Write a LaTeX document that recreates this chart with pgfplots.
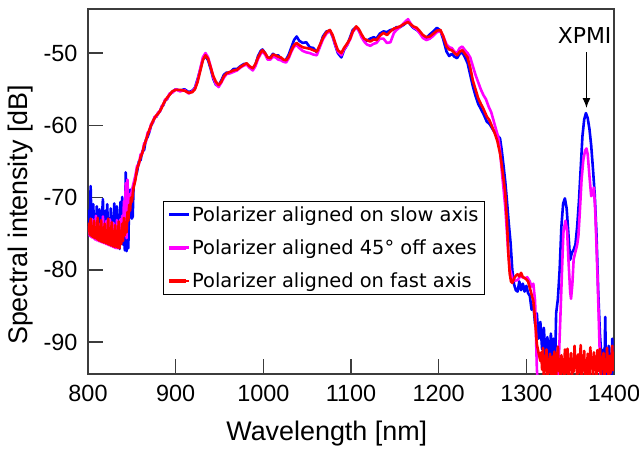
\documentclass[border=0pt]{standalone}
\usepackage{pgfplots}
\pgfplotsset{compat=1.18}
\usepackage{pgfplotstable}
\usetikzlibrary{arrows.meta}
\usepackage{fontspec}
\setmainfont{Liberation Sans}
\newfontfamily\legfont{DejaVu Sans}
\definecolor{axgray}{HTML}{3C3C3C}
\definecolor{cblue}{RGB}{0,0,255}
\definecolor{cmag}{RGB}{255,0,255}
\definecolor{cred}{RGB}{255,0,0}

\pgfplotstableread{
x y
800 -74.0
801 -71.8
802 -75.2
803 -68.4
804 -73.5
805 -75.4
806 -70.9
807 -74.6
808 -72.3
809 -75.6
810 -71.2
811 -74.8
812 -75.9
813 -71.6
814 -74.0
815 -76.0
816 -72.6
817 -70.2
818 -75.1
819 -76.2
820 -71.8
821 -74.5
822 -70.9
823 -76.4
824 -73.1
825 -75.8
826 -71.5
827 -76.6
828 -72.7
829 -74.9
830 -70.8
831 -76.8
832 -73.0
833 -71.2
834 -75.9
835 -72.4
836 -77.1
837 -70.6
838 -74.3
839 -69.9
840 -76.5
841 -70.8
842 -77.3
843 -66.5
844 -77.4
845 -70.0
846 -77.0
847 -69.5
848 -68.9
849 -71.5
850 -72.9
851 -72.6
852 -68.5
854 -67.2
856 -66.4
858 -65.0
860 -64.8
862 -63.6
864 -63.4
866 -62.0
868 -61.6
870 -60.9
872 -60.0
874 -59.6
876 -58.9
878 -58.8
880 -58.3
882 -58.1
884 -57.4
886 -57.2
888 -56.5
890 -56.4
893 -55.7
896 -55.4
900 -55.0
905 -55.2
910 -55.0
915 -55.4
919 -55.2
922 -54.8
925 -53.6
928 -52.3
931 -50.9
934 -50.4
937 -51.0
940 -52.2
943 -53.6
946 -54.4
949 -54.5
952 -53.8
955 -53.0
958 -52.7
962 -52.7
966 -52.2
970 -52.2
974 -51.8
978 -51.5
981 -51.5
984 -51.9
988 -52.2
991 -51.6
994 -50.4
997 -49.7
999 -49.5
1002 -50.0
1005 -50.8
1008 -50.6
1011 -50.1
1014 -50.4
1017 -50.3
1020 -50.8
1023 -51.1
1026 -50.9
1029 -50.2
1032 -49.2
1035 -48.2
1038 -47.7
1041 -48.3
1045 -48.6
1049 -48.5
1053 -49.2
1057 -49.3
1061 -49.9
1064 -49.2
1068 -47.7
1072 -47.0
1076 -46.9
1079 -47.7
1082 -48.9
1085 -50.0
1089 -50.6
1092 -49.6
1096 -48.8
1099 -47.8
1102 -46.8
1106 -46.4
1109 -46.9
1112 -47.6
1115 -48.1
1118 -48.3
1122 -48.0
1126 -47.8
1129 -48.0
1133 -47.3
1137 -47.0
1141 -47.1
1145 -46.8
1149 -46.7
1152 -46.4
1156 -46.4
1160 -46.1
1165 -45.6
1168 -46.1
1171 -46.5
1175 -46.8
1178 -47.1
1182 -47.7
1186 -47.9
1190 -47.4
1194 -47.0
1198 -46.5
1202 -46.9
1205 -48.0
1209 -49.8
1212 -50.4
1215 -50.1
1218 -50.5
1221 -50.7
1224 -50.1
1227 -49.9
1230 -50.6
1233 -51.4
1236 -53.0
1239 -54.6
1242 -55.9
1245 -57.0
1248 -57.7
1251 -58.4
1255 -59.5
1258 -59.8
1261 -60.4
1264 -61.0
1267 -61.4
1270 -61.8
1272 -63.5
1274 -65.6
1276 -67.8
1278 -70.6
1280 -73.6
1282 -76.2
1284 -80.0
1286 -82.0
1288 -82.8
1290 -83.0
1292 -81.6
1294 -82.8
1296 -81.9
1298 -83.0
1300 -82.2
1302 -83.2
1304 -83.6
1306 -85.5
1308 -84.8
1310 -87.5
1312 -86.0
1314 -89.5
1316 -87.2
1318 -91.0
1320 -88.0
1322 -92.5
1324 -89.3
1326 -93.5
1328 -88.8
1330 -94.5
1331 -89.5
1333 -92.0
1334 -86.0
1336 -84.0
1338 -80.0
1340 -74.0
1342 -70.8
1344 -70.1
1346 -71.5
1348 -75.0
1350 -78.6
1352 -77.6
1354 -77.2
1356 -76.5
1358 -74.0
1360 -70.5
1362 -66.0
1364 -61.5
1366 -59.2
1368 -58.3
1370 -59.0
1372 -60.5
1374 -62.8
1376 -66.0
1378 -69.5
1380 -75.0
1382 -83.0
1384 -89.0
1386 -92.5
1387 -94.5
1388 -91.0
1389 -95.0
1390 -86.5
1391 -94.8
1392 -92.0
1393 -95.0
1394 -90.5
1395 -94.5
1396 -91.8
1397 -95.0
1398 -89.5
1399 -94.0
1400 -91.0
}\slowdata

\pgfplotstableread{
x y
800 -74.8
801 -74.0
802 -75.3
803 -73.5
804 -75.5
805 -73.0
806 -75.6
807 -74.3
808 -75.8
809 -72.5
810 -75.9
811 -74.1
812 -76.0
813 -73.7
814 -76.1
815 -74.4
816 -76.2
817 -72.6
818 -76.3
819 -74.9
820 -76.4
821 -73.2
822 -76.5
823 -74.6
824 -76.6
825 -73.0
826 -76.7
827 -74.2
828 -76.8
829 -73.5
830 -76.9
831 -74.9
832 -77.0
833 -73.1
834 -77.0
835 -74.7
836 -76.8
837 -73.0
838 -75.9
839 -72.5
840 -75.0
841 -70.5
842 -74.5
843 -68.0
844 -75.6
845 -67.5
846 -71.0
847 -69.5
848 -70.5
850 -69.0
852 -68.0
854 -67.0
856 -65.6
858 -65.4
860 -64.0
862 -63.9
864 -62.5
866 -62.3
868 -61.0
870 -60.8
872 -59.8
874 -59.6
876 -58.8
878 -58.8
880 -58.2
882 -58.1
884 -57.4
886 -57.1
888 -56.4
890 -56.4
893 -55.6
896 -55.5
900 -55.0
905 -55.3
910 -55.1
915 -55.6
919 -55.3
922 -54.9
925 -53.8
928 -52.2
931 -50.6
934 -50.0
937 -50.6
940 -51.9
943 -53.4
946 -54.3
949 -54.7
952 -54.1
955 -53.4
958 -52.9
962 -52.8
966 -52.6
970 -52.4
974 -52.0
978 -51.7
981 -51.6
984 -52.0
988 -52.4
991 -51.8
994 -50.8
997 -50.1
999 -49.8
1002 -50.2
1005 -50.9
1008 -50.9
1011 -50.5
1014 -50.6
1017 -50.9
1020 -51.0
1023 -51.2
1026 -51.3
1029 -50.7
1032 -49.8
1035 -49.1
1038 -48.9
1041 -49.3
1045 -49.7
1049 -49.9
1053 -50.0
1057 -50.2
1061 -50.3
1064 -49.3
1068 -48.1
1072 -47.3
1076 -46.9
1079 -47.6
1082 -48.8
1085 -49.8
1089 -50.3
1092 -49.5
1096 -48.8
1099 -48.1
1102 -47.1
1106 -46.4
1109 -46.9
1112 -47.8
1115 -48.4
1118 -48.8
1122 -49.0
1126 -48.7
1129 -48.6
1133 -48.0
1137 -48.0
1141 -48.6
1145 -48.5
1149 -47.2
1152 -46.8
1156 -46.4
1160 -45.9
1165 -45.3
1168 -45.9
1171 -46.4
1175 -46.7
1178 -47.2
1182 -47.9
1186 -48.2
1190 -48.0
1194 -47.6
1198 -47.1
1202 -47.0
1205 -47.6
1209 -48.8
1212 -49.2
1215 -49.3
1218 -49.8
1221 -50.0
1224 -49.3
1227 -49.1
1230 -49.6
1233 -50.0
1236 -50.6
1239 -51.8
1242 -53.0
1245 -54.0
1248 -55.0
1251 -55.8
1254 -56.4
1257 -57.4
1260 -58.2
1263 -59.5
1266 -60.8
1268 -61.6
1270 -63.5
1272 -66.3
1274 -68.8
1276 -71.3
1278 -75.0
1279.5 -77.8
1281.5 -80.0
1284 -81.1
1287 -81.5
1290 -81.4
1293 -80.9
1296 -81.0
1299 -81.2
1301 -81.0
1304 -81.6
1306 -82.3
1308 -81.9
1310 -84.3
1312 -93.6
1314 -98.0
1334 -98.0
1336.6 -94.0
1339 -86.0
1340.8 -79.7
1342.3 -74.8
1344.6 -73.2
1346.5 -74.5
1348 -78.5
1350 -83.0
1351 -84.0
1352.5 -82.0
1354 -78.5
1356 -77.5
1358 -76.5
1359.4 -75.3
1361 -72.0
1363 -67.5
1365 -64.8
1367 -63.5
1368.6 -63.2
1370 -64.0
1372 -67.0
1374 -69.8
1375.5 -69.5
1377 -68.6
1378.5 -71.5
1380 -76.5
1381.5 -82.0
1383 -88.5
1384.6 -95.0
1386 -98.0
1400 -98.0
}\offdata

\pgfplotstableread{
x y
800 -74.6
801 -73.6
802 -75.1
803 -72.9
804 -75.3
805 -74.1
806 -75.5
807 -73.2
808 -75.6
809 -74.4
810 -75.7
811 -72.8
812 -75.9
813 -74.6
814 -76.0
815 -73.1
816 -76.1
817 -74.2
818 -76.2
819 -73.6
820 -76.3
821 -74.8
822 -76.4
823 -72.9
824 -76.5
825 -74.5
826 -76.6
827 -73.4
828 -76.7
829 -75.0
830 -76.8
831 -73.8
832 -76.8
833 -74.6
834 -76.9
835 -73.3
836 -77.0
837 -74.9
838 -76.4
839 -73.6
840 -76.0
841 -72.8
842 -75.2
843 -73.4
844 -74.8
845 -72.0
846 -73.2
847 -71.0
848 -71.8
849 -70.0
850 -70.6
852 -68.6
854 -67.6
856 -66.0
858 -65.3
860 -64.4
862 -63.8
864 -62.8
866 -62.1
868 -61.3
870 -60.6
872 -60.0
874 -59.4
876 -59.0
878 -58.6
880 -58.4
882 -58.0
884 -57.6
886 -57.0
888 -56.6
890 -56.2
893 -55.8
896 -55.3
900 -55.1
905 -55.1
910 -55.2
915 -55.5
919 -55.4
922 -55.0
925 -54.0
928 -52.5
931 -51.0
934 -50.3
937 -50.8
940 -52.0
943 -53.2
946 -54.0
949 -54.4
952 -54.0
955 -53.2
958 -52.8
962 -52.6
966 -52.4
970 -52.3
974 -51.9
978 -51.6
981 -51.4
984 -51.8
988 -52.1
991 -51.5
994 -50.6
997 -49.9
999 -49.6
1002 -50.0
1005 -50.6
1008 -50.7
1011 -50.2
1014 -50.3
1017 -50.5
1020 -50.6
1023 -50.9
1026 -51.0
1029 -50.5
1032 -49.6
1035 -48.9
1038 -48.6
1041 -48.9
1045 -49.2
1049 -49.3
1053 -49.4
1057 -49.6
1061 -49.8
1064 -49.0
1068 -47.9
1072 -47.1
1076 -46.8
1079 -47.5
1082 -48.6
1085 -49.6
1089 -50.0
1092 -49.3
1096 -48.6
1099 -48.0
1102 -47.0
1106 -46.3
1109 -46.7
1112 -47.4
1115 -48.0
1118 -48.2
1122 -48.4
1126 -48.1
1129 -48.2
1133 -47.6
1137 -47.2
1141 -47.5
1145 -47.0
1149 -46.6
1152 -46.5
1156 -46.3
1160 -46.0
1165 -45.7
1168 -46.0
1171 -46.3
1175 -46.5
1178 -46.9
1182 -47.5
1186 -47.8
1190 -47.7
1194 -47.3
1198 -46.9
1202 -46.8
1205 -47.6
1209 -49.1
1212 -49.5
1215 -49.6
1218 -50.0
1221 -50.3
1224 -49.8
1227 -49.6
1230 -50.1
1233 -50.6
1236 -52.0
1239 -53.8
1242 -55.0
1245 -56.2
1248 -57.0
1251 -57.7
1255 -58.8
1258 -59.3
1261 -60.2
1264 -61.1
1267 -62.2
1270 -63.9
1272 -65.5
1274 -67.4
1276 -69.4
1278 -73.5
1279.5 -77.8
1281 -80.5
1282.5 -81.6
1284 -81.8
1286 -81.2
1288 -80.8
1290 -80.6
1292 -80.9
1294 -80.4
1296 -81.0
1298 -81.1
1300 -81.3
1302 -81.6
1304 -82.5
1306 -83.4
1308 -84.3
1310 -87.0
1312 -90.3
1314 -91.5
1316 -92.6
1317 -91.4
1318 -93.8
1319 -90.8
1320 -94.9
1321 -92.2
1322 -93.9
1323 -91.0
1324 -95.0
1325 -92.8
1326 -94.2
1327 -91.6
1328 -93.5
1329 -95.0
1330 -92.0
1331 -94.5
1332 -91.3
1333 -93.6
1334 -94.8
1335 -92.5
1336 -90.6
1337 -94.0
1338 -92.7
1339 -95.0
1340 -91.8
1341 -93.7
1342 -92.4
1343 -95.0
1344 -91.0
1345 -94.3
1346 -92.9
1347 -90.9
1348 -94.6
1349 -92.3
1350 -93.8
1351 -91.5
1352 -95.0
1353 -92.6
1354 -94.1
1355 -90.5
1356 -93.5
1357 -92.0
1358 -95.0
1359 -91.7
1360 -94.2
1361 -92.8
1362 -90.4
1363 -94.7
1364 -92.1
1365 -93.9
1366 -91.2
1367 -95.0
1368 -92.5
1369 -94.4
1370 -91.6
1371 -93.2
1372 -95.0
1373 -90.7
1374 -93.6
1375 -92.3
1376 -94.9
1377 -91.4
1378 -93.8
1379 -92.0
1380 -95.0
1381 -91.1
1382 -94.0
1383 -92.7
1384 -90.9
1385 -94.5
1386 -92.2
1387 -93.7
1388 -91.5
1389 -95.0
1390 -92.4
1391 -94.1
1392 -90.8
1393 -93.3
1394 -95.0
1395 -91.9
1396 -94.3
1397 -92.6
1398 -90.5
1399 -93.9
1400 -91.7
}\fastdata

\begin{document}
\begin{tikzpicture}
\begin{axis}[
  scale only axis,
  width=526bp, height=365bp,
  xmin=800, xmax=1400, ymin=-94.4, ymax=-43.9,
  xtick={800,900,1000,1100,1200,1300,1400},
  xticklabels={800,900,1000,1100,1200,1300,1400},
  ytick={-90,-80,-70,-60,-50},
  yticklabels={-90,-80,-70,-60,-50},
  xtick pos=bottom, ytick pos=left,
  tick align=inside,
  major tick length=15bp,
  axis line style={axgray, line width=1.4bp},
  every tick/.style={axgray, line width=1.4bp},
  tick label style={font=\fontsize{23.5}{28}\selectfont, text=black},
  xticklabel style={yshift=-8bp},
  yticklabel style={xshift=-7bp},
  xlabel={Wavelength [nm]},
  ylabel={Spectral intensity [dB]},
  label style={font=\fontsize{27}{32}\selectfont},
  xlabel style={at={(axis description cs:0.454,-0.162)}, anchor=center},
  ylabel style={at={(axis description cs:-0.129,0.436)}, anchor=center, rotate=0},
  legend style={at={(axis description cs:0.1426,0.474)}, anchor=north west,
    draw=black, line width=0.8bp, font=\legfont\fontsize{19.5}{23}\selectfont,
    row sep=13bp, inner xsep=4bp, inner ysep=3bp},
  legend cell align=left,
  legend image code/.code={\draw[#1, line width=3.8bp] (0bp,0bp) -- (17bp,0bp); \path (0bp,0bp) -- (19.5bp,0bp);},
  clip=true,
]
\addplot[cblue, line width=2.6bp, line join=round] table[x=x,y=y] {\slowdata};
\addlegendentry{Polarizer aligned on slow axis}
\addplot[cmag, line width=2.6bp, line join=round] table[x=x,y=y] {\offdata};
\addlegendentry{Polarizer aligned 45° off axes}
\addplot[cred, line width=2.6bp, line join=round] table[x=x,y=y] {\fastdata};
\addlegendentry{Polarizer aligned on fast axis}
\draw[-{Latex[length=10bp,width=8bp]}, black, line width=1.3bp] (axis cs:1368.6,-49.9) -- (axis cs:1368.6,-57.6);
\node[font=\legfont\fontsize{22}{26}\selectfont, anchor=center] at (axis cs:1366.5,-47.5) {XPMI};
\end{axis}
\pgfresetboundingbox
\useasboundingbox (-88bp,-79bp) rectangle (551bp,374bp);
\end{tikzpicture}
\end{document}
